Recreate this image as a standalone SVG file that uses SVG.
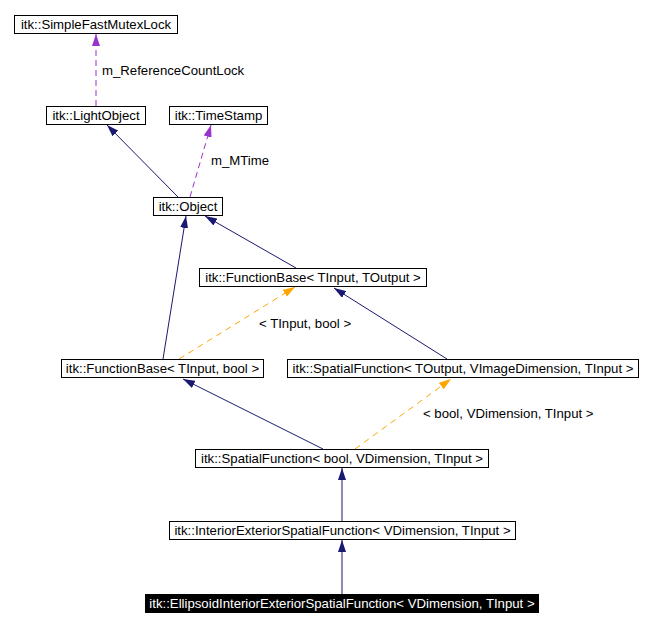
<svg xmlns="http://www.w3.org/2000/svg" width="653" height="627" viewBox="0 0 653 627">
<defs>
<style>
.box{fill:#fff;stroke:#000;stroke-width:1}
.t{font-family:"Liberation Sans",Arial,sans-serif;font-size:13.2px;fill:#000;text-anchor:middle}
.lbl{font-family:"Liberation Sans",Arial,sans-serif;font-size:13.2px;fill:#000}
.navy{stroke:#191970;stroke-width:1;fill:none;marker-end:url(#aN)}
.purple{stroke:#9a32cd;stroke-width:1;fill:none;stroke-dasharray:6,4;marker-end:url(#aP)}
.orange{stroke:#ffa500;stroke-width:1;fill:none;stroke-dasharray:6,5;marker-end:url(#aO)}
</style>
<marker id="aN" viewBox="0 0 12 8" refX="12" refY="4" markerWidth="12" markerHeight="8" markerUnits="userSpaceOnUse" orient="auto"><path d="M0,0 L12,4 L0,8 z" fill="#191970"/></marker>
<marker id="aP" viewBox="0 0 12 8" refX="12" refY="4" markerWidth="12" markerHeight="8" markerUnits="userSpaceOnUse" orient="auto"><path d="M0,0 L12,4 L0,8 z" fill="#9a32cd"/></marker>
<marker id="aO" viewBox="0 0 12 8" refX="12" refY="4" markerWidth="12" markerHeight="8" markerUnits="userSpaceOnUse" orient="auto"><path d="M0,0 L12,4 L0,8 z" fill="#ffa500"/></marker>
</defs>
<rect width="653" height="627" fill="#fff"/>
<g id="edges">
<path class="purple" d="M96,106 L96,34"/>
<text class="lbl" x="102" y="75">m_ReferenceCountLock</text>
<path class="navy" d="M178,197 L107,125"/>
<path class="purple" d="M190,197 L211,125"/>
<text class="lbl" x="211" y="165">m_MTime</text>
<path class="navy" d="M296,268 L205,216"/>
<path class="navy" d="M163,359 L186,216"/>
<path class="orange" d="M179,359 L295,287"/>
<text class="lbl" x="259" y="328">&lt; TInput, bool &gt;</text>
<path class="navy" d="M447,359 L334,288"/>
<path class="navy" d="M323,449 L183,379"/>
<path class="orange" d="M355,449 L451,379"/>
<text class="lbl" x="423" y="418">&lt; bool, VDimension, TInput &gt;</text>
<path class="navy" d="M342,521 L342,468"/>
<path class="navy" d="M342,594 L342,540"/>
</g>
<g id="n_SimpleFastMutexLock"><rect class="box" x="14.5" y="15.5" width="163" height="18"/><text class="t" x="96" y="29">itk::SimpleFastMutexLock</text></g>
<g id="n_LightObject"><rect class="box" x="46.5" y="106.5" width="99" height="18"/><text class="t" x="96" y="120">itk::LightObject</text></g>
<g id="n_TimeStamp"><rect class="box" x="169.5" y="106.5" width="98" height="18"/><text class="t" x="218.5" y="120">itk::TimeStamp</text></g>
<g id="n_Object"><rect class="box" x="153.5" y="197.5" width="69" height="18"/><text class="t" x="188" y="211">itk::Object</text></g>
<g id="n_FunctionBase_TInput_TOutput"><rect class="box" x="199.5" y="268.5" width="227" height="18"/><text class="t" x="313" y="282">itk::FunctionBase&lt; TInput, TOutput &gt;</text></g>
<g id="n_FunctionBase_TInput_bool"><rect class="box" x="61.5" y="359.5" width="202" height="18"/><text class="t" x="162.5" y="373">itk::FunctionBase&lt; TInput, bool &gt;</text></g>
<g id="n_SpatialFunction_TOutput"><rect class="box" x="287.5" y="359.5" width="351" height="18"/><text class="t" x="463" y="373">itk::SpatialFunction&lt; TOutput, VImageDimension, TInput &gt;</text></g>
<g id="n_SpatialFunction_bool"><rect class="box" x="195.5" y="449.5" width="293" height="18"/><text class="t" x="342" y="463">itk::SpatialFunction&lt; bool, VDimension, TInput &gt;</text></g>
<g id="n_InteriorExterior"><rect class="box" x="169.5" y="521.5" width="346" height="18"/><text class="t" x="342.5" y="535">itk::InteriorExteriorSpatialFunction&lt; VDimension, TInput &gt;</text></g>
<g id="n_Ellipsoid"><rect x="145" y="594" width="394" height="19" fill="#000"/><text class="t" x="342" y="608" style="fill:#fff">itk::EllipsoidInteriorExteriorSpatialFunction&lt; VDimension, TInput &gt;</text></g>
</svg>
